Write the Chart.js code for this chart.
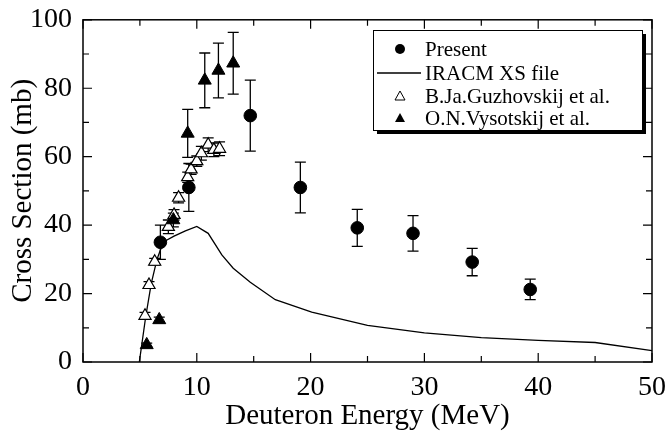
<!DOCTYPE html>
<html>
<head>
<meta charset="utf-8">
<script src="https://cdn.jsdelivr.net/npm/chart.js@4.4.1/dist/chart.umd.min.js"></script>
<style>
  html, body { margin: 0; padding: 0; background: #fff; }
  #wrap { width: 667px; height: 437px; }
</style>
</head>
<body>
<div id="wrap"><canvas id="chart"></canvas></div>
<script>
// Present measurement
const presentE = [6.8, 9.3, 14.7, 19.1, 24.1, 29.0, 34.2, 39.3];
const presentXS = [35, 51, 72, 51, 39.2, 37.6, 29.2, 21.2];
const presentErr = [5, 7, 10.4, 7.4, 5.4, 5.2, 4, 3];

// IRACM XS file curve
const iracmE = [4.95, 5.5, 6.0, 6.5, 7.0, 7.3, 8, 9, 10, 11, 12.2, 13.2, 14.7, 16.9, 20.1, 25, 30, 35, 40, 45, 50];
const iracmXS = [0, 13, 23, 30, 34.5, 35.5, 36.8, 38.3, 39.6, 37.6, 31.3, 27.4, 23.3, 18.2, 14.6, 10.7, 8.5, 7.1, 6.3, 5.7, 3.3];

// B.Ja.Guzhovskij et al.
const guzE = [5.45, 5.8, 6.3, 7.5, 8.0, 8.4, 9.2, 9.5, 10.0, 10.4, 11.0, 11.5, 12.0];
const guzXS = [13.5, 22.5, 29.3, 39.5, 43, 48, 54, 56.3, 58.7, 61, 63.5, 62, 62.3];
const guzErr = [1, 1, 1, 2, 1.5, 1.5, 1.5, 1.5, 1.5, 2, 2, 2, 2];

// O.N.Vysotskij et al.
const vysE = [5.6, 6.7, 7.94, 9.2, 10.7, 11.9, 13.2];
const vysXS = [5, 12.3, 41.5, 66.8, 82.3, 85.2, 87.3];
const vysErr = [0.5, 0.8, 2, 7, 8, 8, 9];

const xTicks = [0, 10, 20, 30, 40, 50];
const yTicks = [0, 20, 40, 60, 80, 100];

const toXY = (xs, ys) => xs.map((x, i) => ({ x: x, y: ys[i] }));
const FONT = "'Liberation Serif', 'Times New Roman', serif";

// error bars, drawn under the markers
const errorBars = {
  id: 'errorBars',
  beforeDatasetsDraw(chart) {
    const { ctx, scales: { x, y } } = chart;
    ctx.save();
    ctx.strokeStyle = '#000';
    ctx.lineWidth = 1.3;
    chart.data.datasets.forEach((ds) => {
      if (!ds.errors) return;
      ds.data.forEach((p, i) => {
        const e = ds.errors[i];
        const px = x.getPixelForValue(p.x);
        const top = y.getPixelForValue(p.y + e);
        const bot = y.getPixelForValue(p.y - e);
        ctx.beginPath();
        ctx.moveTo(px, top); ctx.lineTo(px, bot);
        ctx.moveTo(px - 5.5, top); ctx.lineTo(px + 5.5, top);
        ctx.moveTo(px - 5.5, bot); ctx.lineTo(px + 5.5, bot);
        ctx.stroke();
      });
    });
    ctx.restore();
  }
};

// frame and inward ticks on all four sides, plus the boxed legend
const frame = {
  id: 'frame',
  afterDraw(chart) {
    const { ctx, chartArea: a, scales: { x, y } } = chart;
    ctx.save();
    ctx.strokeStyle = '#000';
    ctx.lineWidth = 1.5;
    ctx.strokeRect(a.left, a.top, a.right - a.left, a.bottom - a.top);
    ctx.lineWidth = 1.2;
    ctx.beginPath();
    for (let v = 0; v <= 50; v += 5) {
      const px = x.getPixelForValue(v);
      const len = v % 10 === 0 ? 9 : 6;
      ctx.moveTo(px, a.bottom); ctx.lineTo(px, a.bottom - len);
      ctx.moveTo(px, a.top); ctx.lineTo(px, a.top + len);
    }
    for (let v = 0; v <= 100; v += 10) {
      const py = y.getPixelForValue(v);
      const len = v % 20 === 0 ? 9 : 6;
      ctx.moveTo(a.left, py); ctx.lineTo(a.left + len, py);
      ctx.moveTo(a.right, py); ctx.lineTo(a.right - len, py);
    }
    ctx.stroke();

    // legend
    const bx = 373, by = 30, bw = 269, bh = 100;
    ctx.fillStyle = '#000';
    ctx.fillRect(bx + 4, by + 4, bw, bh);
    ctx.fillStyle = '#fff';
    ctx.fillRect(bx, by, bw, bh);
    ctx.lineWidth = 1;
    ctx.strokeRect(bx + 0.5, by + 0.5, bw, bh);

    const rows = [49, 73, 96, 118];
    const order = [3, 0, 1, 2];
    ctx.font = '21px ' + FONT;
    ctx.textBaseline = 'middle';
    order.forEach((di, r) => {
      const ds = chart.data.datasets[di];
      const ry = rows[r];
      const mx = 400;
      ctx.fillStyle = '#000';
      ctx.strokeStyle = '#000';
      if (di === 0) {
        ctx.lineWidth = 1.3;
        ctx.beginPath(); ctx.moveTo(377, ry); ctx.lineTo(421, ry); ctx.stroke();
      } else if (di === 3) {
        ctx.beginPath(); ctx.arc(mx, ry, 5, 0, Math.PI * 2); ctx.fill();
      } else {
        ctx.beginPath();
        ctx.moveTo(mx, ry - 5); ctx.lineTo(mx + 5, ry + 4); ctx.lineTo(mx - 5, ry + 4); ctx.closePath();
        if (di === 1) { ctx.fillStyle = '#fff'; ctx.fill(); ctx.lineWidth = 1; ctx.stroke(); }
        else ctx.fill();
      }
      ctx.fillStyle = '#000';
      ctx.fillText(ds.label, 425, ry + 1);
    });
    ctx.restore();
  }
};

new Chart(document.getElementById('chart'), {
  type: 'scatter',
  data: {
    datasets: [
      {
        type: 'line', label: 'IRACM XS file', data: toXY(iracmE, iracmXS),
        borderColor: '#000', borderWidth: 1.3, pointRadius: 0, tension: 0, order: 4
      },
      {
        label: 'B.Ja.Guzhovskij et al.', data: toXY(guzE, guzXS), errors: guzErr,
        pointStyle: 'triangle', pointRadius: 7, backgroundColor: '#fff', borderColor: '#000', borderWidth: 1.2, order: 3
      },
      {
        label: 'O.N.Vysotskij et al.', data: toXY(vysE, vysXS), errors: vysErr,
        pointStyle: 'triangle', pointRadius: 7.5, backgroundColor: '#000', borderColor: '#000', borderWidth: 1, order: 2
      },
      {
        label: 'Present', data: toXY(presentE, presentXS), errors: presentErr,
        pointStyle: 'circle', pointRadius: 6.3, backgroundColor: '#000', borderColor: '#000', borderWidth: 1, order: 1
      }
    ]
  },
  options: {
    responsive: true,
    maintainAspectRatio: false,
    animation: false,
    layout: { padding: { top: 19, right: 15, left: 0, bottom: 0 } },
    plugins: { legend: { display: false }, tooltip: { enabled: false } },
    scales: {
      x: {
        type: 'linear', min: 0, max: 50,
        afterBuildTicks: (s) => { s.ticks = xTicks.map((v) => ({ value: v })); },
        grid: { display: false },
        border: { display: false },
        ticks: { color: '#000', font: { family: FONT, size: 28 }, padding: 1, maxRotation: 0 },
        title: { display: true, text: 'Deuteron Energy (MeV)', color: '#000', font: { family: FONT, size: 29 }, padding: { top: 0, bottom: 3 } },
        afterFit: (s) => { s.height = 75; }
      },
      y: {
        type: 'linear', min: 0, max: 100,
        afterBuildTicks: (s) => { s.ticks = yTicks.map((v) => ({ value: v })); },
        grid: { display: false },
        border: { display: false },
        ticks: { color: '#000', font: { family: FONT, size: 28 }, padding: 3 },
        title: { display: true, text: 'Cross Section (mb)', color: '#000', font: { family: FONT, size: 29 }, padding: { top: 6, bottom: 0 } },
        afterFit: (s) => { s.width = 83; }
      }
    }
  },
  plugins: [errorBars, frame]
});
</script>
</body>
</html>
